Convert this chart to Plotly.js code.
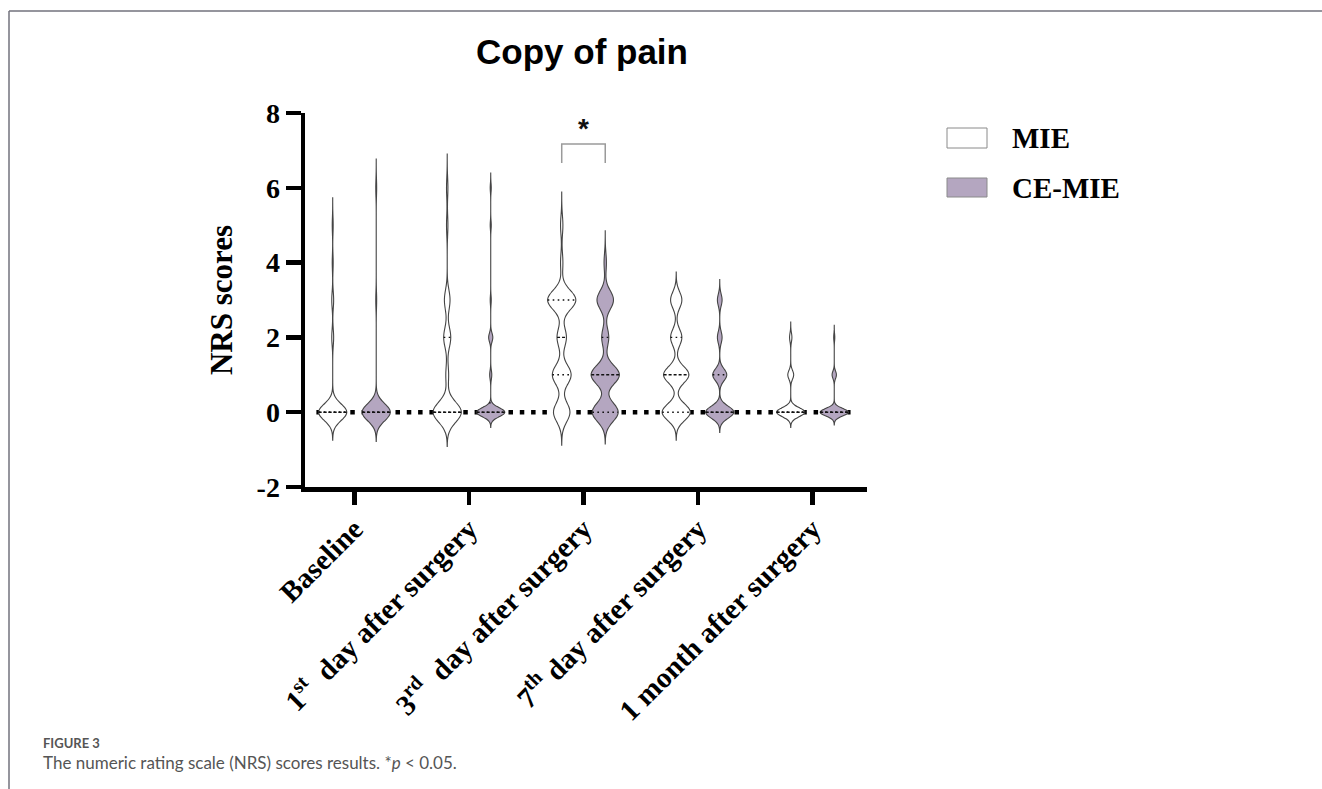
<!DOCTYPE html>
<html><head><meta charset="utf-8">
<script src="https://cdn.plot.ly/plotly-3.0.1.min.js"></script>
<style>html,body{margin:0;padding:0;background:#fff}#chart{width:1322px;height:789px}</style>
</head><body><div id="chart"></div>
<script>
// ---- data ----
const timepoints = ['Baseline', '1<sup>st</sup>  day after surgery', '3<sup>rd</sup>  day after surgery', '7<sup>th</sup> day after surgery', '1 month after surgery'];
const groupNames = ['MIE', 'CE-MIE'];
const scoreLevels = [0, 1, 2, 3, 4, 5, 6];
// number of patients at each NRS score (0..6)
const mieBaseline = [30, 0, 2, 2, 1, 1, 0];
const mieDay1     = [20, 2, 5, 4, 0, 1, 1];
const mieDay3     = [7, 8, 4, 12, 1, 1, 0];
const mieDay7     = [10, 9, 4, 4, 0, 0, 0];
const mieMonth1   = [24, 5, 2, 0, 0, 0, 0];
const ceBaseline  = [32, 0, 0, 1, 0, 0, 1];
const ceDay1      = [27, 2, 4, 1, 0, 1, 1];
const ceDay3      = [11, 12, 3, 7, 1, 0, 0];
const ceDay7      = [18, 9, 3, 3, 0, 0, 0];
const ceMonth1    = [26, 4, 1, 0, 0, 0, 0];
const yTickVals = [-2, 0, 2, 4, 6, 8];
const sigText = '*';

// ---- style ----
const mieBandwidth = [0.22, 0.27, 0.26, 0.22, 0.12];
const ceBandwidth  = [0.23, 0.12, 0.25, 0.16, 0.10];
const fills = ['#ffffff', '#b4a6c0'];
const outline = '#444444';
const offset = 0.19, vWidth = 0.245, tailK = 3.4;
const L = 305, R = 867, T = 113, B = 487;
const W = 1322, H = 789;
const px = x => (x - L) / (R - L);
const py = y => (B - y) / (B - T);

const groupsData = [[mieBaseline, mieDay1, mieDay3, mieDay7, mieMonth1], [ceBaseline, ceDay1, ceDay3, ceDay7, ceMonth1]];
const bws = [mieBandwidth, ceBandwidth];

function samplesFrom(counts) {
  const out = [];
  counts.forEach((c, i) => { for (let k = 0; k < c; k++) out.push(scoreLevels[i]); });
  return out;
}
function quantile(sorted, p) {
  const pos = (sorted.length - 1) * p, lo = Math.floor(pos), hi = Math.ceil(pos);
  return sorted[lo] + (sorted[hi] - sorted[lo]) * (pos - lo);
}

const traces = [];
const shapes = [];

// zero dotted line
shapes.push({type: 'line', xref: 'x', yref: 'y', layer: 'below',
  x0: 0 - offset - vWidth / 2 - 0.02, x1: (timepoints.length - 1) + offset + vWidth / 2 + 0.02, y0: 0, y1: 0,
  line: {color: '#000', width: 4.5, dash: '4.5px,6.8px'}});

groupsData.forEach((series, g) => {
  series.forEach((counts, i) => {
    const ys = samplesFrom(counts);
    const bw = bws[g][i];
    const c = i + (g === 0 ? -offset : offset);
    const mn = Math.min(...ys), mx = Math.max(...ys);
    const span = [mn - tailK * bw, mx + tailK * bw];
    traces.push({
      type: 'violin', y: ys, x0: c, name: groupNames[g], showlegend: false,
      width: vWidth, bandwidth: bw, spanmode: 'manual', span: span, scalemode: 'width',
      points: false, box: {visible: false}, meanline: {visible: false},
      fillcolor: fills[g], line: {color: outline, width: 1.1}, hoverinfo: 'skip', opacity: 1
    });
    // median & quartiles
    const sorted = ys.slice().sort((a, b) => a - b);
    const dens = y => ys.reduce((s, v) => s + Math.exp(-0.5 * ((y - v) / bw) ** 2), 0);
    let dmax = 0;
    for (let k = 0; k <= 600; k++) { const y = span[0] + (span[1] - span[0]) * k / 600; dmax = Math.max(dmax, dens(y)); }
    [[0.25, false], [0.75, false], [0.5, true]].forEach(([p, isMed]) => {
      const q = quantile(sorted, p);
      const half = vWidth / 2 * dens(q) / dmax;
      if (half < 0.01) return;
      shapes.push({type: 'line', xref: 'x', yref: 'y', x0: c - half, x1: c + half, y0: q, y1: q,
        line: {color: '#111', width: 1.4, dash: isMed ? '3px,2px' : '1.6px,3.4px'}});
    });
  });
});

// significance bracket
const sigIdx = 2;
shapes.push({type: 'path', xref: 'x', yref: 'y',
  path: `M${sigIdx - offset},6.66 L${sigIdx - offset},7.17 L${sigIdx + offset},7.17 L${sigIdx + offset},6.66`,
  line: {color: '#9a9a9a', width: 1.5}});

// legend boxes
shapes.push({type: 'rect', xref: 'paper', yref: 'paper', x0: px(947), x1: px(987), y0: py(148), y1: py(128),
  fillcolor: fills[0], line: {color: '#8a8a8a', width: 1}});
shapes.push({type: 'rect', xref: 'paper', yref: 'paper', x0: px(947), x1: px(987), y0: py(197), y1: py(178),
  fillcolor: fills[1], line: {color: '#8a8a8a', width: 1}});

// frame
shapes.push({type: 'line', xref: 'paper', yref: 'paper', x0: px(9), x1: px(9), y0: py(11), y1: py(H + 5),
  line: {color: '#72727c', width: 1.5}});
shapes.push({type: 'line', xref: 'paper', yref: 'paper', x0: px(9), x1: px(W + 5), y0: py(11), y1: py(11),
  line: {color: '#72727c', width: 1.5}});

const serif = 'Liberation Serif, Times New Roman, serif';
const annotations = [
  {xref: 'x', yref: 'y', x: sigIdx, y: 7.58, text: sigText, showarrow: false,
   font: {family: 'Liberation Sans, Arial', size: 28, color: '#111', weight: 'bold'}},
  {xref: 'paper', yref: 'paper', x: px(1010), y: py(138), xanchor: 'left', yanchor: 'middle', text: '<b>' + groupNames[0] + '</b>',
   showarrow: false, font: {family: serif, size: 29, color: '#000'}},
  {xref: 'paper', yref: 'paper', x: px(1010), y: py(188), xanchor: 'left', yanchor: 'middle', text: '<b>' + groupNames[1] + '</b>',
   showarrow: false, font: {family: serif, size: 29, color: '#000'}},
  {xref: 'paper', yref: 'paper', x: px(41), y: py(743), xanchor: 'left', yanchor: 'middle', text: 'FIGURE 3',
   showarrow: false, font: {family: 'Lato, Open Sans, sans-serif', size: 13, color: '#555', weight: 'bold'}},
  {xref: 'paper', yref: 'paper', x: px(41), y: py(763), xanchor: 'left', yanchor: 'middle',
   text: 'The numeric rating scale (NRS) scores results. *<i>p</i> < 0.05.',
   showarrow: false, font: {family: 'Lato, Open Sans, sans-serif', size: 17, color: '#555'}}
];

const layout = {
  width: W, height: H,
  margin: {l: L, r: W - R, t: T, b: H - B, pad: 0},
  paper_bgcolor: '#fff', plot_bgcolor: '#fff',
  showlegend: false, violinmode: 'overlay',
  title: {text: '<b>Copy of pain</b>', x: px(582), xref: 'paper', xanchor: 'center', y: 1 - 52 / H, yref: 'container', yanchor: 'middle',
          font: {family: 'Liberation Sans, Arial', size: 35, color: '#000'}},
  xaxis: {range: [-0.432, 4.476], tickmode: 'array', tickvals: timepoints.map((t, i) => i), ticktext: timepoints.map(t => '<b>' + t + '</b>'),
          tickangle: -45, ticks: 'outside', ticklen: 13, tickwidth: 4.5, tickcolor: '#000', showline: true, linewidth: 4.5, linecolor: '#000',
          ticklabelstandoff: -4,
          showgrid: false, zeroline: false, fixedrange: true, tickfont: {family: serif, size: 29, color: '#000'}},
  yaxis: {range: [-2, 8], tickmode: 'array', tickvals: yTickVals, ticktext: yTickVals.map(v => '<b>' + v + '</b>'),
          ticks: 'outside', ticklen: 15, tickwidth: 4.5, tickcolor: '#000', showline: true, linewidth: 4.5, linecolor: '#000',
          showgrid: false, zeroline: false, fixedrange: true, tickfont: {family: serif, size: 28, color: '#000'},
          title: {text: '<b>NRS scores</b>', standoff: 16, font: {family: serif, size: 31, color: '#000'}}},
  shapes: shapes, annotations: annotations
};
Plotly.newPlot('chart', traces, layout, {displayModeBar: false, staticPlot: true});
</script></body></html>
